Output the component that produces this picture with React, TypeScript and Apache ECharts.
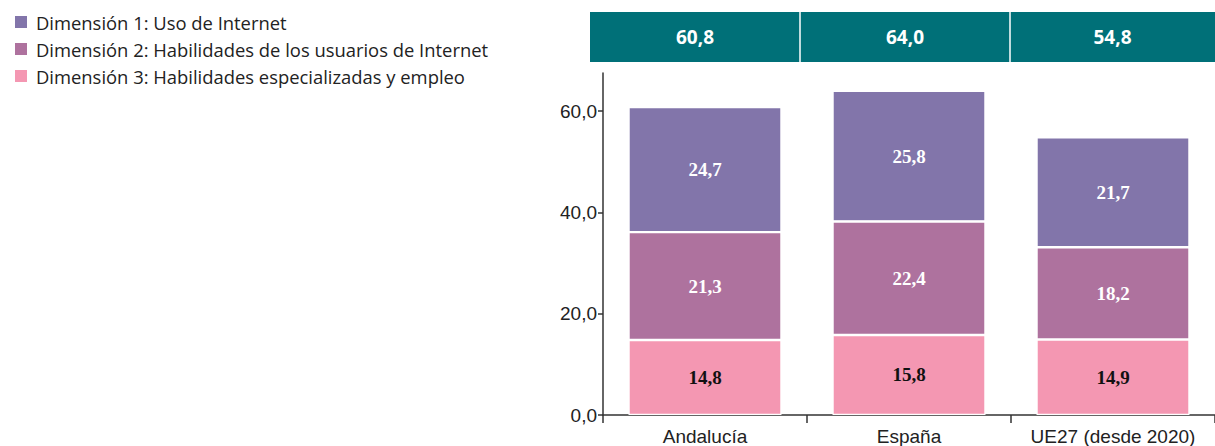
import React, { useEffect, useRef } from "react";
import * as echarts from "echarts";

const categories = ["Andalucía", "España", "UE27 (desde 2020)"];
const dim1 = [24.7, 25.8, 21.7];
const dim2 = [21.3, 22.4, 18.2];
const dim3 = [14.8, 15.8, 14.9];
const totals = [60.8, 64.0, 54.8];
const seriesNames = [
  "Dimensión 1: Uso de Internet",
  "Dimensión 2: Habilidades de los usuarios de Internet",
  "Dimensión 3: Habilidades especializadas y empleo",
];
const yTicks = [0, 20, 40, 60];

const fmt = (v: number) => v.toFixed(1).replace(".", ",");

export default function App() {
  const ref = useRef<HTMLDivElement>(null);
  useEffect(() => {
    if (!ref.current) return;
    const chart = echarts.init(ref.current, null, { renderer: "svg" });
    const headerLeft = 590;
    const headerRight = 1215;
    const splits = [800, 1010];
    const edges = [headerLeft, ...splits, headerRight];
    const headerBoxes: any[] = [];
    headerBoxes.push({
      type: "rect",
      shape: { x: headerLeft, y: 12, width: headerRight - headerLeft, height: 50 },
      style: { fill: "#007078" },
      silent: true,
    });
    splits.forEach((s) => {
      headerBoxes.push({
        type: "line",
        shape: { x1: s, y1: 12, x2: s, y2: 62 },
        style: { stroke: "#ffffff", lineWidth: 1.5 },
        silent: true,
      });
    });
    totals.forEach((t, i) => {
      headerBoxes.push({
        type: "text",
        x: (edges[i] + edges[i + 1]) / 2,
        y: 37,
        style: {
          text: fmt(t),
          fill: "#ffffff",
          font: "bold 19px 'Open Sans', 'Noto Sans', sans-serif",
          align: "center",
          verticalAlign: "middle",
        },
        silent: true,
      });
    });
    const labelFont = {
      fontFamily: "'Liberation Serif', serif",
      fontWeight: "bold" as const,
      fontSize: 19,
    };
    const mk = (name: string, data: number[], color: string, labelColor: string) => ({
      name,
      type: "bar",
      stack: "total",
      barWidth: 153,
      data,
      itemStyle: { color, borderColor: "#ffffff", borderWidth: 1.2 },
      label: {
        show: true,
        position: "inside",
        color: labelColor,
        formatter: (p: any) => fmt(p.value),
        ...labelFont,
      },
    });
    chart.setOption({
      animation: false,
      backgroundColor: "#ffffff",
      legend: {
        orient: "vertical",
        left: 8,
        top: 8,
        itemWidth: 14,
        itemHeight: 14,
        itemGap: 9,
        icon: "rect",
        data: seriesNames,
        textStyle: {
          fontSize: 18.4,
          color: "#222",
          fontFamily: "'Open Sans', 'Noto Sans', sans-serif",
          padding: [0, 0, 0, 3],
        },
      },
      grid: { left: 603, width: 612, top: 73, bottom: 30 },
      xAxis: {
        type: "category",
        data: categories,
        axisLine: { lineStyle: { color: "#333", width: 1.5 } },
        axisTick: { show: true, interval: 0, length: 8, lineStyle: { color: "#333", width: 1.5 } },
        axisLabel: {
          interval: 0,
          hideOverlap: false,
          color: "#222",
          fontSize: 19,
          margin: 12,
          fontFamily: "'Liberation Sans Narrow', 'Liberation Sans', sans-serif",
        },
      },
      yAxis: {
        type: "value",
        min: 0,
        max: 67.5,
        interval: 20,
        splitLine: { show: false },
        axisLine: { show: true, lineStyle: { color: "#333", width: 1.5 } },
        axisTick: {
          show: true,
          length: 5,
          customValues: yTicks,
          lineStyle: { color: "#333", width: 1.5 },
        },
        axisLabel: {
          customValues: yTicks,
          color: "#222",
          fontSize: 19,
          margin: 6,
          fontFamily: "'Liberation Sans Narrow', 'Liberation Sans', sans-serif",
          formatter: (v: number) => fmt(v),
        },
      },
      color: ["#8275AA", "#AE729E", "#F497B2"],
      series: [
        mk(seriesNames[2], dim3, "#F497B2", "#111111"),
        mk(seriesNames[1], dim2, "#AE729E", "#ffffff"),
        mk(seriesNames[0], dim1, "#8275AA", "#ffffff"),
      ],
      graphic: headerBoxes,
    });
    return () => chart.dispose();
  }, []);
  return (
    <div
      ref={ref}
      style={{ position: "fixed", left: 0, top: 0, width: 1215, height: 446 }}
    />
  );
}
